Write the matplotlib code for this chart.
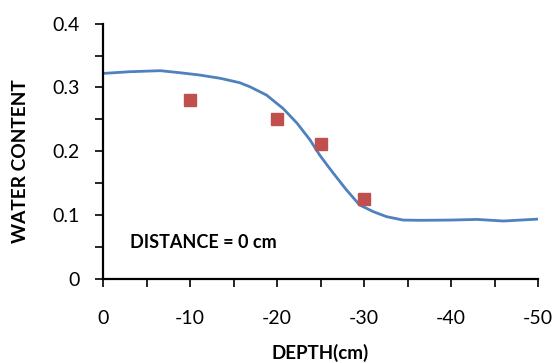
import matplotlib
matplotlib.use('Agg')
import matplotlib.pyplot as plt
from matplotlib.ticker import MultipleLocator, FuncFormatter

plt.rcParams['font.family'] = ['Lato', 'DejaVu Sans']

# simulated profile (line)
depth_sim = [0, -3.1, -6.6, -8.9, -11.1, -13.5, -15.7, -16.9, -18.8, -20.7, -22.3,
             -23.8, -24.9, -25.9, -26.5, -28.0, -29.5, -31.1, -32.6, -34.5, -36.4,
             -40, -43, -46, -50]
wc_sim = [0.322, 0.3247, 0.3263, 0.323, 0.3195, 0.3143, 0.3075, 0.301, 0.288, 0.267, 0.244,
          0.2176, 0.194, 0.1757, 0.165, 0.139, 0.1156, 0.105, 0.0973, 0.092, 0.0916,
          0.092, 0.093, 0.0905, 0.0935]

# measured points
depth_obs = [-10, -20, -25, -30]
wc_obs = [0.281, 0.25, 0.211, 0.1245]

fig = plt.figure(figsize=(5.55, 3.63), dpi=100)
ax = fig.add_axes([0.1856, 0.2322, 0.7838, 0.7025])

ax.plot(depth_sim, wc_sim, color='#4F81BD', lw=2.0, solid_capstyle='round')
ax.plot(depth_obs, wc_obs, ls='none', marker='s', ms=8.2, color='#C0504D', mec='#C0504D')

ax.set_xlim(0, -50)
ax.set_ylim(0, 0.4)
ax.xaxis.set_major_locator(MultipleLocator(10))
ax.xaxis.set_minor_locator(MultipleLocator(5))
ax.yaxis.set_major_locator(MultipleLocator(0.1))
ax.yaxis.set_minor_locator(MultipleLocator(0.05))
ax.yaxis.set_major_formatter(FuncFormatter(lambda v, p: '0' if abs(v) < 1e-9 else f'{v:.1f}'))
ax.xaxis.set_major_formatter(FuncFormatter(lambda v, p: f'{v:.0f}'))

for s in ['top', 'right']:
    ax.spines[s].set_visible(False)
for s in ['left', 'bottom']:
    ax.spines[s].set_linewidth(1.6)

ax.tick_params(which='both', direction='out', length=5.5, width=1.2, labelsize=14)
ax.tick_params(axis='x', which='major', pad=17)
ax.tick_params(axis='y', which='major', pad=11)

ax.set_xlabel('DEPTH(cm)', fontsize=13.5, fontweight='bold', va='center')
ax.xaxis.set_label_coords(0.5, -0.29)
ax.set_ylabel('WATER CONTENT', fontsize=13.8, fontweight='bold', va='center')
ax.yaxis.set_label_coords(-0.19, 0.46)

ax.text(-3.1, 0.057, 'DISTANCE = 0 cm', fontsize=13, fontweight='bold', va='center', ha='left')

fig.savefig('out.png', dpi=100)
